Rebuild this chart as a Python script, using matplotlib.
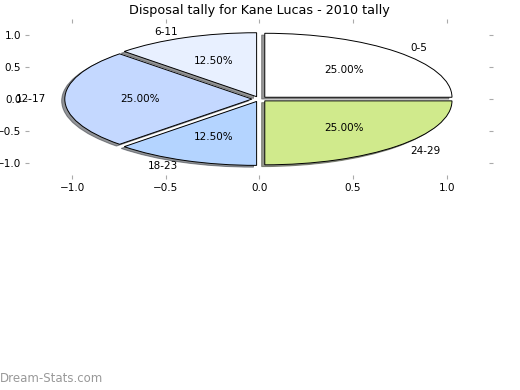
import matplotlib
matplotlib.use("Agg")
import matplotlib.pyplot as plt

categories = ["0-5", "6-11", "12-17", "18-23", "24-29"]
values = [2, 1, 2, 1, 2]
colors = ["#ffffff", "#e8f0ff", "#c4d8ff", "#b4d4ff", "#d0ea8c"]
explode = [0.04, 0.04, 0.04, 0.04, 0.04]
ticks = [-1.0, -0.5, 0.0, 0.5, 1.0]
title = "Disposal tally for Kane Lucas - 2010 tally"

fig = plt.figure(figsize=(5.2, 3.9), dpi=100)
ax = fig.add_axes([0.049, 0.541, 0.9, 0.41])
wedges, texts, autotexts = ax.pie(
    values, labels=categories, colors=colors, explode=explode,
    autopct="%1.2f%%", shadow={"ox": -0.012, "oy": -0.02, "shade": 0.8},
    wedgeprops={"edgecolor": "black", "linewidth": 0.7},
    textprops={"fontsize": 7.5})
for t, w in zip(texts, wedges):
    x, _ = t.get_position()
    t.set_ha("left" if x > 0 else "right")
ax.set_aspect("auto")
ax.set_xlim(-1.25, 1.25)
ax.set_ylim(-1.25, 1.25)
ax.set_frame_on(False)
ax.set_xticks(ticks)
ax.set_yticks(ticks)
ax.tick_params(direction="in", length=3, color="#aaaaaa", labelsize=7.5,
               top=True, right=True, pad=3)
ax.set_title(title, fontsize=9.2, pad=4)
fig.text(0.0, 0.012, "Dream-Stats.com", color="#999999", fontsize=8.5,
         ha="left", va="bottom")
fig.savefig("out.png", dpi=100)
